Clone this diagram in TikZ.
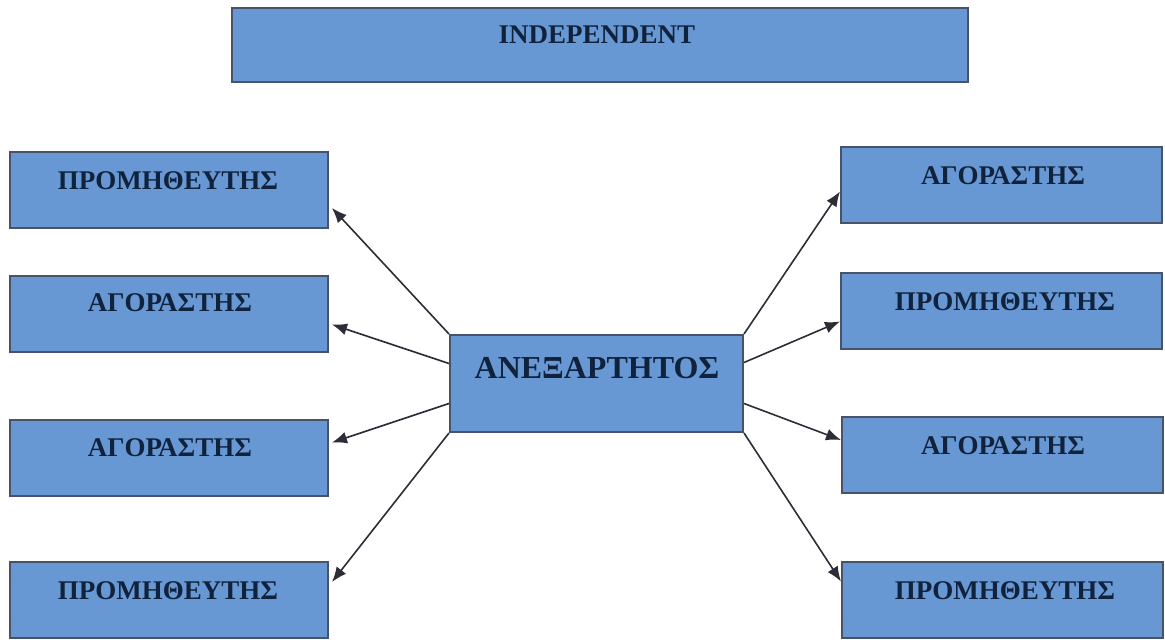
\documentclass[tikz,border=0pt]{standalone}
\usepackage{fontspec}
\setmainfont{Liberation Serif}
\usetikzlibrary{arrows.meta}
\definecolor{boxfill}{RGB}{104,152,212}
\definecolor{boxline}{RGB}{72,82,104}
\definecolor{ink}{RGB}{16,34,60}
\definecolor{wire}{RGB}{45,45,55}
\tikzset{
  box/.style={draw=boxline, line width=2pt, fill=boxfill, inner sep=0pt},
  sidebox/.style={box, minimum width=318pt, minimum height=76pt},
  txt/.style={text=ink, font=\bfseries\fontsize{27}{27}\selectfont, inner sep=0pt},
  link/.style={draw=wire, line width=1.6pt, -{Latex[length=15pt,width=12pt]}}
}
\begin{document}
\begin{tikzpicture}[x=1pt,y=1pt]
\useasboundingbox (0,0) rectangle (1165,-640);
\fill[white] (0,0) rectangle (1165,-640);

% title bar
\node[box, minimum width=736pt, minimum height=74pt] (top) at (600,-45) {};
\node[txt] (toptxt) at (597,-35) {INDEPENDENT};

% central node
\node[box, minimum width=293pt, minimum height=97pt] (c) at (596.5,-383.5) {};
\node[txt, font=\bfseries\fontsize{32}{32}\selectfont] (ctxt) at (597,-368) {ΑΝΕΞΑΡΤΗΤΟΣ};

% left column
\node[sidebox] (l1) at (169,-190) {};
\node[txt] (l1t) at (168,-181) {ΠΡΟΜΗΘΕΥΤΗΣ};
\node[sidebox] (l2) at (169,-313.5) {};
\node[txt] (l2t) at (170,-303) {ΑΓΟΡΑΣΤΗΣ};
\node[sidebox] (l3) at (169,-457.5) {};
\node[txt] (l3t) at (170,-448) {ΑΓΟΡΑΣΤΗΣ};
\node[sidebox] (l4) at (169,-600) {};
\node[txt] (l4t) at (168,-591) {ΠΡΟΜΗΘΕΥΤΗΣ};

% right column
\node[sidebox, minimum width=321pt] (r1) at (1001.5,-184.5) {};
\node[txt] (r1t) at (1003,-176) {ΑΓΟΡΑΣΤΗΣ};
\node[sidebox, minimum width=321pt] (r2) at (1001.5,-310.5) {};
\node[txt] (r2t) at (1005,-302) {ΠΡΟΜΗΘΕΥΤΗΣ};
\node[sidebox, minimum width=321pt] (r3) at (1002.5,-455) {};
\node[txt] (r3t) at (1003,-446) {ΑΓΟΡΑΣΤΗΣ};
\node[sidebox, minimum width=321pt] (r4) at (1002.5,-599.5) {};
\node[txt] (r4t) at (1005,-591) {ΠΡΟΜΗΘΕΥΤΗΣ};

% connectors to the left
\draw[link] (c.north west) -- ([xshift=3pt,yshift=-18pt]l1.east);
\draw[link] ([yshift=20pt]c.west) -- ([xshift=3pt,yshift=-11pt]l2.east);
\draw[link] ([yshift=-20pt]c.west) -- ([xshift=3pt,yshift=15pt]l3.east);
\draw[link] (c.south west) -- ([xshift=3pt,yshift=18pt]l4.east);

% connectors to the right
\draw[link] (c.north east) -- ([yshift=-7pt]r1.west);
\draw[link] ([yshift=21pt]c.east) -- ([yshift=-11pt]r2.west);
\draw[link] ([yshift=-20pt]c.east) -- ([yshift=15pt]r3.west);
\draw[link] (c.south east) -- ([yshift=18pt]r4.west);
\end{tikzpicture}
\end{document}
